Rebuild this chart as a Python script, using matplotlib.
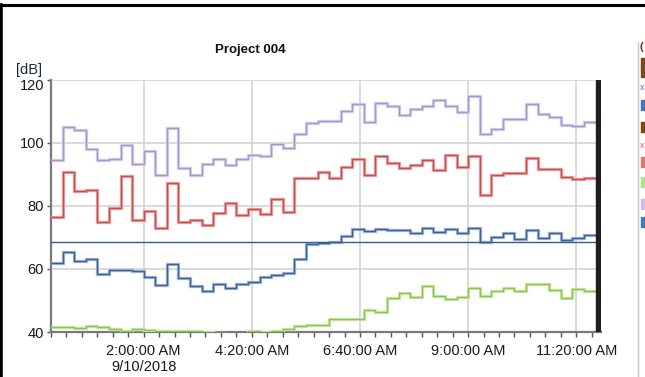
import numpy as np
import matplotlib
matplotlib.use("Agg")
import matplotlib.pyplot as plt
from matplotlib.lines import Line2D
from matplotlib.patches import Rectangle

plt.rcParams['font.family'] = ['Liberation Sans', 'DejaVu Sans']

# 15 minute intervals starting at 00:00 on 9/10/2018
interval_min = 15

max_db = [94.6, 104.9, 104.1, 98.0, 94.5, 94.9, 99.3, 93.2, 97.2, 89.9, 104.7, 91.9,
          89.8, 93.2, 94.8, 93.0, 94.8, 96.1, 95.7, 99.6, 98.4, 102.6, 106.1, 106.9,
          107.0, 110.0, 112.1, 106.6, 112.7, 111.5, 108.8, 110.8, 111.7, 113.5, 111.7,
          109.7, 114.7, 102.6, 104.3, 107.5, 107.5, 112.3, 109.0, 108.0, 105.6, 105.3, 106.5]

l10_db = [76.4, 90.6, 84.8, 85.0, 74.9, 79.3, 89.4, 75.6, 78.3, 73.1, 87.2, 75.0,
          75.6, 73.8, 77.8, 80.8, 77.1, 78.9, 77.5, 82.0, 77.9, 88.9, 88.9, 90.6,
          88.9, 92.2, 94.9, 89.8, 95.8, 93.7, 92.0, 92.8, 94.5, 91.4, 96.1,
          92.3, 95.8, 83.4, 89.9, 90.3, 90.3, 95.1, 91.6, 91.6, 89.1, 88.6, 88.9]

leq_db = [62.0, 65.2, 62.4, 63.1, 58.4, 59.7, 59.7, 59.3, 57.5, 55.0, 61.4, 57.2,
          54.5, 52.9, 55.3, 54.0, 55.3, 56.0, 57.4, 58.0, 58.7, 63.2, 68.0, 68.3,
          68.5, 70.5, 72.5, 72.1, 72.5, 72.4, 72.2, 71.4, 73.1, 71.6, 72.5,
          71.4, 72.8, 68.4, 70.2, 71.3, 69.4, 72.4, 69.7, 71.3, 69.1, 69.9, 70.6]

min_db = [41.7, 41.7, 41.2, 41.9, 41.5, 40.8, 40.2, 40.8, 40.6, 40.2, 40.2, 40.2,
          40.2, 40.0, 39.8, 39.5, 39.4, 40.3, 40.0, 40.3, 41.0, 41.8, 42.1, 42.1,
          44.1, 44.0, 44.0, 46.9, 46.3, 50.8, 52.4, 51.1, 54.7, 51.4, 50.3,
          51.1, 53.9, 51.4, 53.1, 53.9, 52.9, 55.3, 55.1, 53.2, 50.8, 53.5, 52.9]

leq_total = 68.6

tick_min = [120, 260, 400, 540, 680]
tick_labels = ["2:00:00 AM\n9/10/2018", "4:20:00 AM", "6:40:00 AM", "9:00:00 AM", "11:20:00 AM"]
y_ticks = [40, 60, 80, 100, 120]

fig = plt.figure(figsize=(6.45, 3.77), dpi=100)
ax = fig.add_axes([51 / 645, 1 - 332 / 377, 550 / 645, (332 - 79.5) / 377])

edges = np.arange(len(max_db) + 1) * interval_min

series = [
    (max_db, '#a696cc', '#d9d0ee'),
    (l10_db, '#c84e4e', '#eaa8a8'),
    (leq_db, '#3b5e95', '#a9bddb'),
    (min_db, '#8cc64e', '#cfe9b0'),
]
for vals, dark, light in series:
    ax.stairs(vals, edges, baseline=None, color=light, lw=2.4, zorder=3)
    ax.stairs(vals, edges, baseline=None, color=dark, lw=1.0, zorder=4)

ax.axhline(leq_total, color='#3a5889', lw=1.0, zorder=3)

# closing marker at the end of the record
ax.plot([edges[-1], edges[-1], edges[-1] + 2], [l10_db[-1], 81.9, 81.9], color='#6cc4c8', lw=1.0, zorder=5)
ax.axvspan(edges[-1], 712, color='#1f1f1f', zorder=6)

ax.set_xlim(0, 712)
ax.set_ylim(40, 120)
ax.set_yticks(y_ticks)
ax.set_xticks(tick_min)
ax.set_xticklabels(tick_labels)
ax.set_xticks(np.arange(0, 712, 20), minor=True)

ax.grid(True, which='major', color='#d3d3d3', lw=1.2, zorder=0)
for side in ['top', 'right']:
    ax.spines[side].set_visible(False)
for side in ['left', 'bottom']:
    ax.spines[side].set_color('#7a7a7a')
    ax.spines[side].set_linewidth(1.6)

ax.tick_params(axis='x', which='both', direction='out', length=3.5, width=1, color='#555555',
               labelsize=10.5, pad=5, labelcolor='#1a1a1a')
ax.tick_params(axis='y', direction='out', length=3, width=1, color='#555555',
               labelsize=10.5, pad=2, labelcolor='#1a1a1a')
ax.get_yticklabels()[-1].set_va('top')

fig.text(250 / 645, 1 - 50 / 377, "Project 004", ha='center', va='center',
         fontsize=9.5, fontweight='bold', color='#111111')
fig.text(16 / 645, 1 - 70 / 377, "[dB]", ha='left', va='center', fontsize=10.5, color='#1a2a40')

# window frame and side panel edge
fig.add_artist(Line2D([0, 1], [1 - 5 / 377, 1 - 5 / 377], color='black', lw=2.2))
fig.add_artist(Line2D([1.4 / 645, 1.4 / 645], [0, 1 - 5 / 377], color='black', lw=2.6))
fig.add_artist(Line2D([638 / 645, 638 / 645], [0, 1 - 42 / 377], color='#c8c8c8', lw=1.0))

# partially visible legend on the right
legend_y = [63, 72, 105, 127, 162, 182, 204, 222]
legend_c = ['#7a4a1e', '#7a4a1e', '#4a74b8', '#7a4a1e', '#e07575', '#b5e08a', '#cbbde6', '#4a78c0']
for yy, cc in zip(legend_y, legend_c):
    fig.add_artist(Rectangle((641 / 645, 1 - (yy + 5) / 377), 6 / 645, 10 / 377, color=cc))
fig.text(640 / 645, 1 - 47 / 377, "(", fontsize=8, fontweight='bold', color='#5a3010', va='center')
fig.text(639.5 / 645, 1 - 88 / 377, "x", fontsize=6.5, color='#4a74b8', va='center')
fig.text(639.5 / 645, 1 - 145 / 377, "x", fontsize=6.5, color='#e05a5a', va='center')

fig.savefig("out.png", dpi=100)
